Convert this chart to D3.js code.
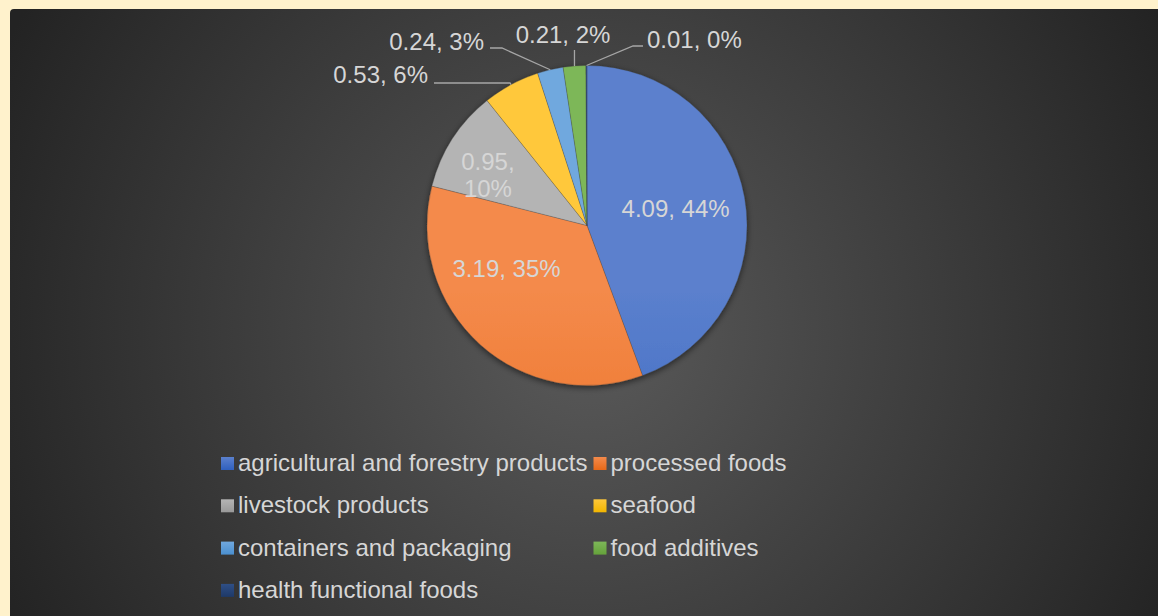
<!DOCTYPE html>
<html>
<head>
<meta charset="utf-8">
<script src="https://cdn.jsdelivr.net/npm/d3@7"></script>
<style>
  html, body { margin: 0; padding: 0; background: #FFF2CC; }
  svg { display: block; }
</style>
</head>
<body>
<svg id="chart"></svg>
<script>
// data
var categories = ["agricultural and forestry products", "processed foods", "livestock products",
    "seafood", "containers and packaging", "food additives", "health functional foods"]
var values = [4.09, 3.19, 0.95, 0.53, 0.24, 0.21, 0.01]
var percents = ["44%", "35%", "10%", "6%", "3%", "2%", "0%"]

var colorTop = ["#5B80CD", "#F48A4B", "#B4B4B4", "#FFC83A", "#70A8DE", "#7DB758", "#2F4F86"]
var colorBot = ["#2F60BE", "#E86918", "#999999", "#F2B600", "#4A8FCF", "#65A23B", "#1E3968"]

var width = 1158,
    height = 616
var cx = 587, cy = 225.5, r = 160

var svg = d3.select("#chart").attr("width", width).attr("height", height)
var defs = svg.append("defs")

// background panel
var bg = defs.append("radialGradient").attr("id", "bg")
    .attr("gradientUnits", "userSpaceOnUse")
    .attr("cx", 590).attr("cy", 330).attr("r", 650)
bg.append("stop").attr("offset", 0).attr("stop-color", "#5a5a5a")
bg.append("stop").attr("offset", 1).attr("stop-color", "#232323")

svg.append("rect")
    .attr("x", 10).attr("y", 9)
    .attr("width", width + 20).attr("height", height + 20)
    .attr("rx", 4)
    .attr("fill", "url(#bg)")

var shadow = defs.append("filter").attr("id", "shadow")
    .attr("x", "-20%").attr("y", "-20%").attr("width", "140%").attr("height", "140%")
shadow.append("feDropShadow")
    .attr("dx", 0).attr("dy", 2).attr("stdDeviation", 3)
    .attr("flood-color", "#000").attr("flood-opacity", 0.55)

// one vertical gradient per slice, light at top, dark at bottom
categories.forEach(function (c, i) {
    var g = defs.append("linearGradient").attr("id", "grad" + i)
        .attr("gradientUnits", "userSpaceOnUse")
        .attr("x1", 0).attr("y1", cy - r).attr("x2", 0).attr("y2", cy + r)
    g.append("stop").attr("offset", 0).attr("stop-color", colorTop[i])
    g.append("stop").attr("offset", 1).attr("stop-color", colorBot[i])
})

var pie = d3.pie().sort(null).value(function (d) { return d })
var arcs = pie(values)
var arc = d3.arc().innerRadius(0).outerRadius(r)

var pieG = svg.append("g").attr("transform", "translate(" + cx + "," + cy + ")")

pieG.append("g")
    .attr("filter", "url(#shadow)")
    .selectAll("path")
    .data(arcs)
    .enter().append("path")
    .attr("d", arc)
    .attr("fill", function (d, i) { return "url(#grad" + i + ")" })
    .attr("stroke", "#3a3a3a")
    .attr("stroke-opacity", 0.5)
    .attr("stroke-width", 0.5)

var textColor = "#D6D6D6"
var font = "Liberation Sans, Arial, sans-serif"

function labelText(i) {
    return values[i].toFixed(2) + ", " + percents[i]
}

// inside labels: radius along the slice, plus an angle shift (best fit placement)
var inside = [
    { i: 0, rad: 90, shift: 0 },
    { i: 1, rad: 92, shift: 19 },
    { i: 2, rad: 111, shift: -6 }
]
inside.forEach(function (p) {
    var d = arcs[p.i]
    var a = (d.startAngle + d.endAngle) / 2 + p.shift * Math.PI / 180
    var x = Math.sin(a) * p.rad, y = -Math.cos(a) * p.rad
    var t = pieG.append("text")
        .attr("text-anchor", "middle")
        .attr("fill", textColor)
        .style("font-family", font)
        .style("font-size", "24px")
    if (p.i == 2) {
        t.append("tspan").attr("x", x).attr("y", y - 5).text(values[p.i].toFixed(2) + ",")
        t.append("tspan").attr("x", x).attr("y", y + 22).text(percents[p.i])
    } else {
        t.attr("x", x).attr("y", y + 7).text(labelText(p.i))
    }
})

// outside labels with leader lines (elbow + label baseline, relative to centre)
var outside = [
    { i: 3, elbow: [-77, -142.5], lx: -159, ly: -142.5, anchor: "end", by: -142.5 },
    { i: 4, elbow: [-85, -177.5], lx: -103, ly: -175.5, anchor: "end", by: -177.5 },
    { i: 5, elbow: null, lx: -24, ly: -182.5, anchor: "middle", by: -177.5 },
    { i: 6, elbow: [46, -179.5], lx: 60, ly: -177.5, anchor: "start", by: -179.5 }
]
outside.forEach(function (p) {
    var d = arcs[p.i]
    var a = (d.startAngle + d.endAngle) / 2
    var sx = Math.sin(a) * r, sy = -Math.cos(a) * r
    var pts = [[sx, sy]]
    if (p.elbow) {
        pts.push(p.elbow)
        if (p.anchor == "end") pts.push([p.lx + 6, p.by])
        else pts.push([p.lx - 4, p.by])
    } else {
        pts.push([sx, p.by + 2])
    }
    pieG.append("path")
        .attr("d", d3.line()(pts))
        .attr("fill", "none")
        .attr("stroke", "#A6A6A6")
        .attr("stroke-width", 1.3)
    pieG.append("text")
        .attr("x", p.lx).attr("y", p.ly)
        .attr("text-anchor", p.anchor)
        .attr("fill", textColor)
        .style("font-family", font)
        .style("font-size", "24px")
        .text(labelText(p.i))
})

// legend, two columns
categories.forEach(function (c, i) {
    var g = defs.append("linearGradient").attr("id", "lg" + i)
        .attr("x1", 0).attr("y1", 0).attr("x2", 0).attr("y2", 1)
    g.append("stop").attr("offset", 0).attr("stop-color", colorTop[i])
    g.append("stop").attr("offset", 1).attr("stop-color", colorBot[i])
})

var legend = svg.append("g").attr("class", "legend")
var legX = 221, legY = 471, rowH = 42.3, box = 13
var items = legend.selectAll("g")
    .data(categories)
    .enter().append("g")
items.append("rect")
    .attr("width", box).attr("height", box)
    .attr("y", -14)
    .attr("fill", function (d, i) { return "url(#lg" + i + ")" })
items.append("text")
    .attr("x", box + 4)
    .attr("fill", textColor)
    .style("font-family", font)
    .style("font-size", "24px")
    .text(function (d) { return d })

var maxW = 0
items.select("text").each(function () {
    maxW = Math.max(maxW, this.getComputedTextLength())
})
var colW = box + 4 + maxW + 6
items.attr("transform", function (d, i) {
    var col = i % 2, row = Math.floor(i / 2)
    return "translate(" + (legX + col * colW) + "," + (legY + row * rowH) + ")"
})
</script>
</body>
</html>
